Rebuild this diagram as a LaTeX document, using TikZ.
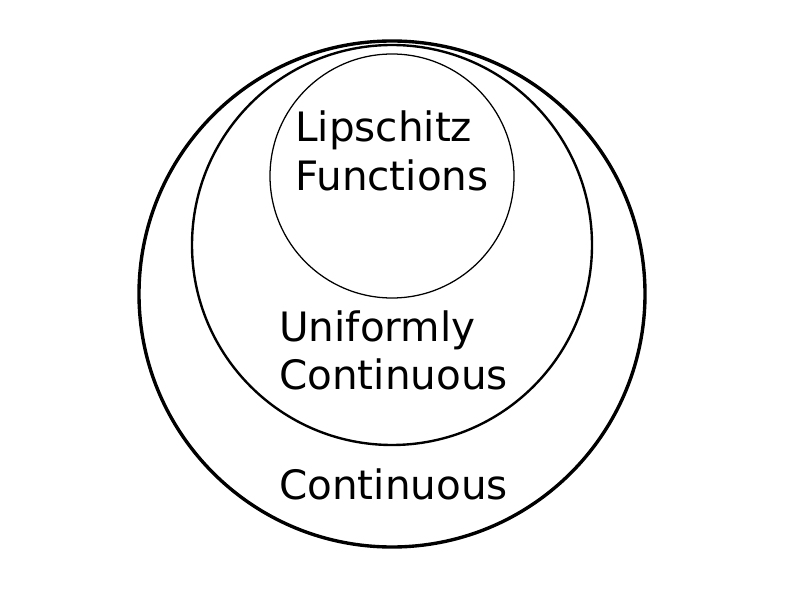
\documentclass[tikz,border=0pt]{standalone}
\usepackage{fontspec}
\setmainfont{DejaVu Sans}
\usepackage{tikz}
\usetikzlibrary{positioning}

\begin{document}
\begin{tikzpicture}[
    set/.style={circle, draw, inner sep=0pt, fill=none},
    setlabel/.style={inner sep=0pt, align=left, font=\fontsize{28.8}{34.4}\selectfont}]

\useasboundingbox (0,0) rectangle (20,15);

% Nested sets -- outermost is thickest
\node (cont) [set, line width=2.4pt, minimum size=12.65cm] at (9.8, 7.65)  {};
\node (unif) [set, line width=1.7pt, minimum size=10.0cm]  at (9.8, 8.875) {};
\node (lip)  [set, line width=0.9pt, minimum size=6.1cm]   at (9.8, 10.6)  {};

% Labels inside each set
\node (liptext)  [setlabel, anchor=west]      at (7.375, 11.225) {Lipschitz\\Functions};
\node (uniftext) [setlabel, anchor=west]      at (6.975, 6.2375) {Uniformly\\Continuous};
\node (conttext) [setlabel, anchor=base west] at (6.975, 2.525)  {Continuous};

\end{tikzpicture}
\end{document}
